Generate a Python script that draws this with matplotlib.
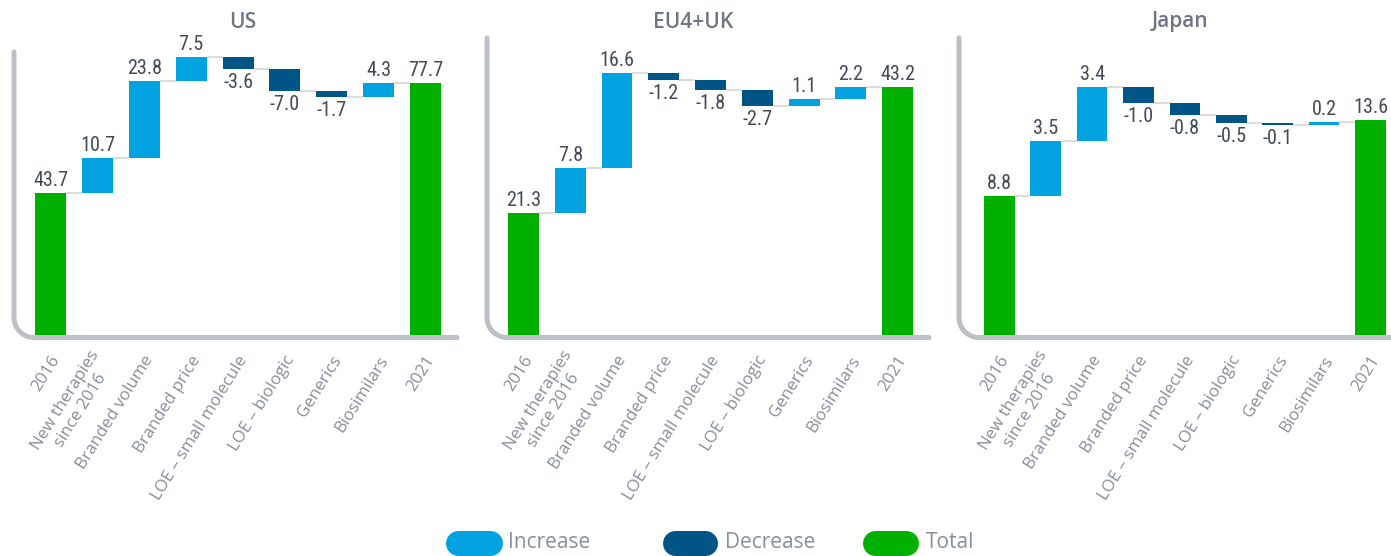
import numpy as np
import matplotlib.pyplot as plt
from matplotlib.lines import Line2D
from matplotlib import font_manager

categories = ['2016', 'New therapies\nsince 2016', 'Branded volume', 'Branded price',
              'LOE – small molecule', 'LOE – biologic', 'Generics', 'Biosimilars', '2021']
regions = ['US', 'EU4+UK', 'Japan']
us_values = [43.7, 10.7, 23.8, 7.5, -3.6, -7.0, -1.7, 4.3, 77.7]
eu_values = [21.3, 7.8, 16.6, -1.2, -1.8, -2.7, 1.1, 2.2, 43.2]
jp_values = [8.8, 3.5, 3.4, -1.0, -0.8, -0.5, -0.1, 0.2, 13.6]
legend_labels = ['Increase', 'Decrease', 'Total']

INC = '#00a3e0'
DEC = '#005587'
TOT = '#00b000'
FRAME = '#bcc0c6'
VAL_COLOR = '#414a57'
CAT_COLOR = '#878e99'

W, H = 1391, 556
DPI = 100
fig = plt.figure(figsize=(W / DPI, H / DPI), dpi=DPI)
fig.patch.set_facecolor('white')

# panel layout in pixels: left, right, top, bottom, xlim, ymax, title x
panels = [
    dict(vals=us_values, left=14, right=457, top=52, bottom=335,
         xlim=(-0.78, 8.67), ymax=87.2, tx=243),
    dict(vals=eu_values, left=487, right=929, top=38, bottom=335,
         xlim=(-0.78, 8.67), ymax=51.8, tx=693),
    dict(vals=jp_values, left=959, right=1391, top=38, bottom=335,
         xlim=(-0.87, 8.44), ymax=18.8, tx=1180),
]

# narrow face for the value labels, whichever is installed
installed = {f.name for f in font_manager.fontManager.ttflist}
narrow = [f for f in ['Roboto Condensed', 'Liberation Sans Narrow', 'Open Sans Condensed',
                      'DejaVu Sans Condensed'] if f in installed]
val_font = narrow + ['DejaVu Sans']
txt_font = ['Open Sans', 'DejaVu Sans']


def draw_frame(ax, w_px, h_px, r=20, drop=2.5):
    # rounded L-shaped axis line (left + bottom)
    theta = np.linspace(np.pi, 1.5 * np.pi, 30)
    xs = [0, 0] + list(r + r * np.cos(theta)) + [w_px]
    ys = [h_px, r - drop] + list(r - drop + r * np.sin(theta)) + [-drop]
    xs = np.array(xs) / w_px
    ys = np.array(ys) / h_px
    ax.add_line(Line2D(xs, ys, transform=ax.transAxes, color=FRAME, lw=5 * 72 / DPI,
                       solid_capstyle='round', solid_joinstyle='round',
                       clip_on=False, zorder=0))


for region, p in zip(regions, panels):
    w_px = p['right'] - p['left']
    h_px = p['bottom'] - p['top']
    ax = fig.add_axes([p['left'] / W, (H - p['bottom']) / H, w_px / W, h_px / H])
    ax.set_xlim(*p['xlim'])
    ax.set_ylim(0, p['ymax'])
    ax.axis('off')
    draw_frame(ax, w_px, h_px)

    vals = p['vals']
    n = len(vals)
    bw = 0.66
    running = 0.0
    tops = []
    for i, v in enumerate(vals):
        if i == 0 or i == n - 1:
            bottom, height, color = 0, v, TOT
            running = v if i == 0 else running
            level = v
        else:
            bottom = running if v >= 0 else running + v
            height = abs(v)
            color = INC if v >= 0 else DEC
            running += v
            level = running
        ax.bar(i, height, bottom=bottom, width=bw, color=color, zorder=2)
        tops.append(level)

        if i == 0 or i == n - 1 or v >= 0:
            ax.annotate(f'{v:.1f}', (i, bottom + height), xytext=(0, 3),
                        textcoords='offset pixels', ha='center', va='bottom',
                        fontsize=14.5, color=VAL_COLOR, family=val_font,
                        fontstretch='condensed', annotation_clip=False)
        else:
            ax.annotate(f'{v:.1f}', (i, bottom), xytext=(0, -4),
                        textcoords='offset pixels', ha='center', va='top',
                        fontsize=14.5, color=VAL_COLOR, family=val_font,
                        fontstretch='condensed', annotation_clip=False)

    # connector lines between consecutive bars
    for i in range(n - 1):
        ax.plot([i + bw / 2, i + 1 - bw / 2], [tops[i], tops[i]],
                color='#dcdcdc', lw=1.5, zorder=1, solid_capstyle='butt')

    # category labels
    for i, cat in enumerate(categories):
        ax.annotate(cat, (i, 0), xytext=(6, -22), textcoords='offset pixels',
                    rotation=58, rotation_mode='anchor', ha='right', va='center',
                    multialignment='center', fontsize=12.2, color=CAT_COLOR,
                    family=txt_font, annotation_clip=False, linespacing=1.2)

    fig.text(p['tx'] / W, (H - 22) / H, region, ha='center', va='center',
             fontsize=15, fontweight='semibold', color='#6e7681', family=txt_font)

# legend with pill markers
legend_items = [(445, 502, 508), (662, 717, 725), (862, 918, 926)]
for (x0, x1, tx), label, color in zip(legend_items, legend_labels, [INC, DEC, TOT]):
    yc = (H - 543) / H
    fig.add_artist(Line2D([(x0 + 12.5) / W, (x1 - 12.5) / W], [yc, yc],
                          transform=fig.transFigure, color=color, lw=25 * 72 / DPI,
                          solid_capstyle='round'))
    fig.text(tx / W, yc, label, ha='left', va='center', fontsize=15,
             color=CAT_COLOR, family=txt_font)

fig.savefig('out.png', dpi=DPI, facecolor='white')
